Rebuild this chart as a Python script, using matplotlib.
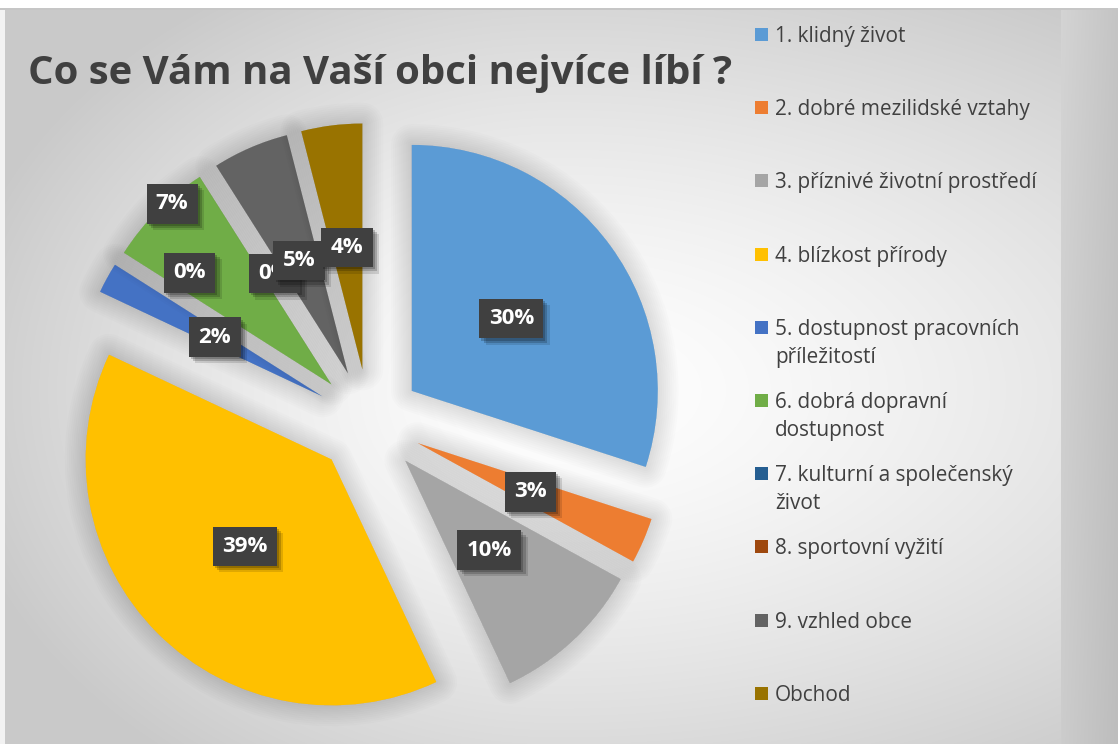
import numpy as np
import matplotlib
matplotlib.use("Agg")
import matplotlib.pyplot as plt
import matplotlib.patheffects as pe
from matplotlib.patches import Rectangle

# data
kategorie = ["1. klidný život", "2. dobré mezilidské vztahy", "3. příznivé životní prostředí",
             "4. blízkost přírody", "5. dostupnost pracovních\npříležitostí",
             "6. dobrá dopravní\ndostupnost", "7. kulturní a společenský\nživot",
             "8. sportovní vyžití", "9. vzhled obce", "Obchod"]
procenta = [30, 3, 10, 39, 2, 7, 0, 0, 5, 4]
barvy = ["#5B9BD5", "#ED7D31", "#A5A5A5", "#FFC000", "#4472C4",
         "#70AD47", "#255E91", "#9E480E", "#636363", "#997300"]
nadpis = "Co se Vám na Vaší obci nejvíce líbí ?"

W, H = 1118, 744
R = 246.0          # polomer kolace v pixelech
CX, CY = 369, 422  # stred kolace (pixely od leveho horniho rohu)
font = ["Open Sans", "DejaVu Sans"]
seda_text = "#404040"

fig = plt.figure(figsize=(W / 100, H / 100), dpi=100)

# pozadi - radialni prechod
bg = fig.add_axes([0, 0, 1, 1])
yy, xx = np.mgrid[0:H, 0:W].astype(float)
rx = np.where(xx < 560, 620, 900)
rho = np.sqrt(((xx - 560) / rx) ** 2 + ((yy - 390) / 470) ** 2)
v = 1 - 0.21 * np.clip(rho, 0, 1.0) ** 1.4
pruh = xx >= 1061
v[pruh] = (0.83 - 0.06 * (xx - 1061) / 57 - 0.03 * yy / H)[pruh]
v[:, :5] = 0.95
v[:8, :] = 1.0
v[8:10, :] = 0.78
bg.imshow(np.dstack([v, v, v]), extent=[0, W, H, 0], aspect="auto", interpolation="bilinear")
bg.set_axis_off()

# kolac
ax = fig.add_axes([0, 0, 1, 1])
ax.patch.set_visible(False)
wedges, _ = ax.pie(procenta, explode=[0.215] * len(procenta), colors=barvy, startangle=90,
                   counterclock=False, radius=1, wedgeprops=dict(linewidth=0))
ax.set_xlim(-CX / R, (W - CX) / R)
ax.set_ylim(-(H - CY) / R, CY / R)
ax.set_aspect("auto")
ax.set_axis_off()

# mekky stin kolem dilku
stin = [pe.Stroke(linewidth=lw, foreground="black", alpha=0.011, joinstyle="round")
        for lw in range(30, 2, -3)]
for w, p in zip(wedges, procenta):
    if p == 0:
        continue
    w.set_path_effects(stin + [pe.Normal()])

# popisky - Excel nektere posunul ("best fit")
vzdal = [0.5] * len(procenta)
natoceni = [0.0] * len(procenta)
vzdal[5], natoceni[5] = 0.98, -3.6
vzdal[6], natoceni[6] = 0.746, 22.9

for i, (w, p) in enumerate(zip(wedges, procenta)):
    th = np.deg2rad((w.theta1 + w.theta2) / 2 + natoceni[i])
    x = w.center[0] + vzdal[i] * np.cos(th)
    y = w.center[1] + vzdal[i] * np.sin(th)
    t = ax.text(x, y, f"{p}%", ha="center", va="center", color="white", fontsize=16,
                fontweight="bold", family=font, zorder=5 + i,
                bbox=dict(boxstyle="square,pad=0.42", fc="#404040", ec="none"))
    t.get_bbox_patch().set_path_effects([
        pe.SimplePatchShadow(offset=(4.5, -4.5), shadow_rgbFace="black", alpha=0.12),
        pe.SimplePatchShadow(offset=(3, -3), shadow_rgbFace="black", alpha=0.18),
        pe.SimplePatchShadow(offset=(1.5, -1.5), shadow_rgbFace="black", alpha=0.2),
        pe.Normal()])

renderer = fig.canvas.get_renderer()


def prizpusob(t, cilova_sirka):
    sirka = t.get_window_extent(renderer).width
    t.set_fontsize(t.get_fontsize() * cilova_sirka / sirka)


# nadpis
tn = fig.text(28 / W, 1 - 84 / H, nadpis, fontsize=28, fontweight="bold", color=seda_text,
              family=font, va="baseline", ha="left")
prizpusob(tn, 704)

# legenda
vel_leg = 14
zkouska = fig.text(0, 0, kategorie[1], fontsize=vel_leg, family=font)
vel_leg = vel_leg * 257 / zkouska.get_window_extent(renderer).width
zkouska.remove()

for i, (kat, b) in enumerate(zip(kategorie, barvy)):
    yc = 34.5 + 73.2 * i
    fig.add_artist(Rectangle((755 / W, 1 - (yc + 6.5) / H), 13 / W, 13 / H,
                             transform=fig.transFigure, color=b, lw=0))
    for j, radek in enumerate(kat.split("\n")):
        fig.text(775 / W, 1 - (yc + 7.5 + 28 * j) / H, radek, fontsize=vel_leg,
                 family=font, color=seda_text, va="baseline", ha="left")

fig.savefig("out.png", dpi=100)
